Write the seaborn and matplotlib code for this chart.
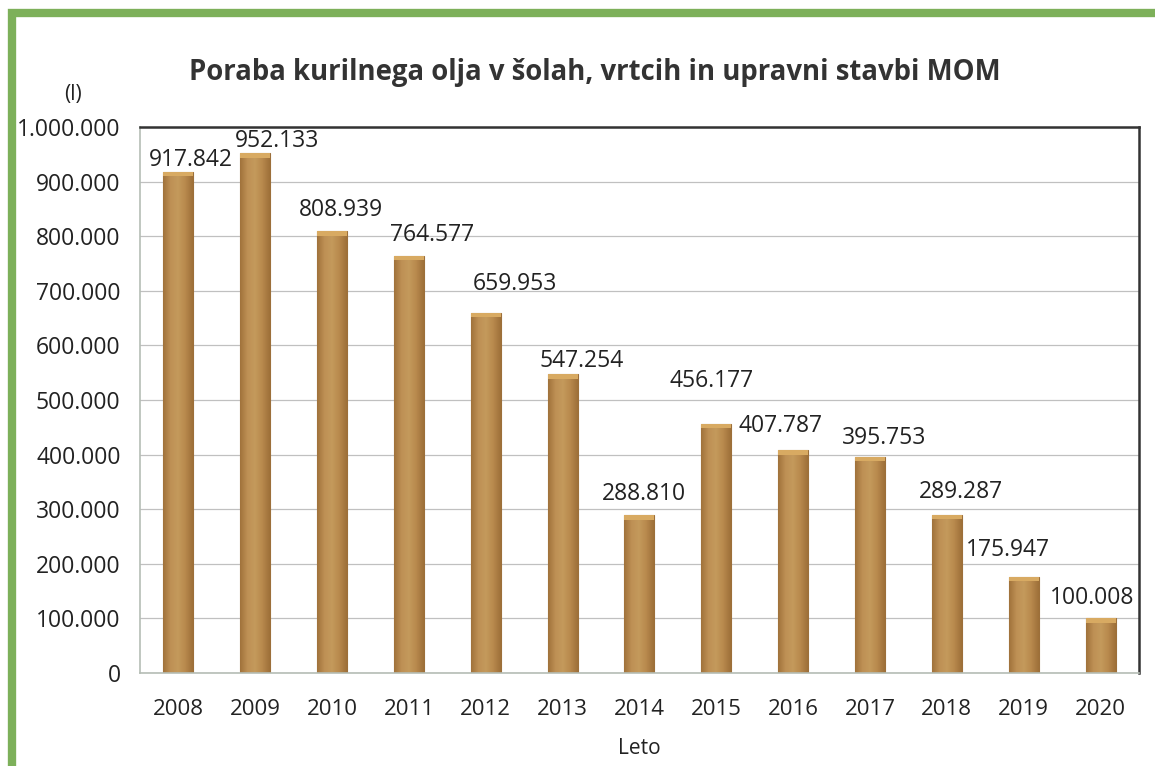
import numpy as np
import pandas as pd
import matplotlib
matplotlib.use("Agg")
import matplotlib.pyplot as plt
import seaborn as sns
from matplotlib.patches import Rectangle
from matplotlib.colors import LinearSegmentedColormap
from matplotlib.ticker import FuncFormatter, MultipleLocator

years = ["2008", "2009", "2010", "2011", "2012", "2013", "2014",
         "2015", "2016", "2017", "2018", "2019", "2020"]
consumption = [917842, 952133, 808939, 764577, 659953, 547254, 288810,
               456177, 407787, 395753, 289287, 175947, 100008]
# label offsets (points) relative to each bar's top centre
label_dx = [9, 16, 6.5, 16.5, 21, 14, 3, -3.5, -9, 10, 10, -11.5, -6]
label_dy = [0, 0, 7, 6, 12, 1, 6.5, 22, 9, 5, 8, 11, 6]

df = pd.DataFrame({"Leto": years, "Poraba": consumption})

sns.set_theme(style="white")
plt.rcParams["font.family"] = ["Open Sans", "DejaVu Sans"]

fig = plt.figure(figsize=(11.55, 7.66), dpi=100)
ax = fig.add_axes([0.1212, 0.1214, 0.8649, 0.7128])

sns.barplot(data=df, x="Leto", y="Poraba", color="#B5874E", width=0.39,
            saturation=1, edgecolor="#9C6F3A", linewidth=0.8, ax=ax)

# horizontal shading inside each bar
cmap = LinearSegmentedColormap.from_list(
    "bar", ["#A0723B", "#BE9055", "#C49A5C", "#B8894D", "#9E7039"])
grad = np.linspace(0, 1, 64).reshape(1, -1)
for p in ax.patches:
    x0, y0 = p.get_x(), p.get_y()
    w, h = p.get_width(), p.get_height()
    im = ax.imshow(grad, cmap=cmap, aspect="auto",
                   extent=[x0, x0 + w, y0, y0 + h], zorder=p.get_zorder() + 0.1)
    im.set_clip_path(p)
    cap = Rectangle((x0, y0 + h - 8000), w, 8000, facecolor="#D8AA62",
                    edgecolor="none", zorder=p.get_zorder() + 0.2)
    cap.set_clip_path(p)
    ax.add_patch(cap)

ax.set_xlim(-0.5, len(years) - 0.5)
ax.set_ylim(0, 1000000)
ax.yaxis.set_major_locator(MultipleLocator(100000))
ax.yaxis.set_major_formatter(
    FuncFormatter(lambda v, _: f"{int(v):,}".replace(",", ".")))
ax.grid(axis="y", color="#C0C0C0", linewidth=0.9)
ax.set_axisbelow(True)
ax.tick_params(axis="y", length=0, labelsize=16.5, colors="#222222", pad=14)
ax.tick_params(axis="x", length=0, labelsize=16, colors="#222222", pad=19)

for side in ["left", "bottom"]:
    ax.spines[side].set_color("#B5BDB5")
    ax.spines[side].set_linewidth(1.2)
for side in ["top", "right"]:
    ax.spines[side].set_color("#333333")
    ax.spines[side].set_linewidth(1.8)

ax.set_ylabel("")
ax.set_xlabel("Leto", fontsize=15, color="#222222", labelpad=13)

for i, v in enumerate(consumption):
    ax.annotate(f"{v:,}".replace(",", "."), xy=(i, v),
                xytext=(label_dx[i], label_dy[i]), textcoords="offset points",
                ha="center", va="bottom", fontsize=16.5, color="#222222",
                zorder=5)

fig.text(0.515, 0.906, "Poraba kurilnega olja v šolah, vrtcih in upravni stavbi MOM",
         ha="center", va="center", fontsize=19.8, fontweight="bold",
         color="#333333")
fig.text(0.063, 0.876, "(l)", ha="center", va="center", fontsize=15,
         color="#222222")

# green frame around the chart
fig.patches.append(Rectangle((0.0104, -0.05), 1.1, 1.033, transform=fig.transFigure,
                             fill=False, edgecolor="#7DB05A", linewidth=6))

fig.savefig("out.png", dpi=100)
